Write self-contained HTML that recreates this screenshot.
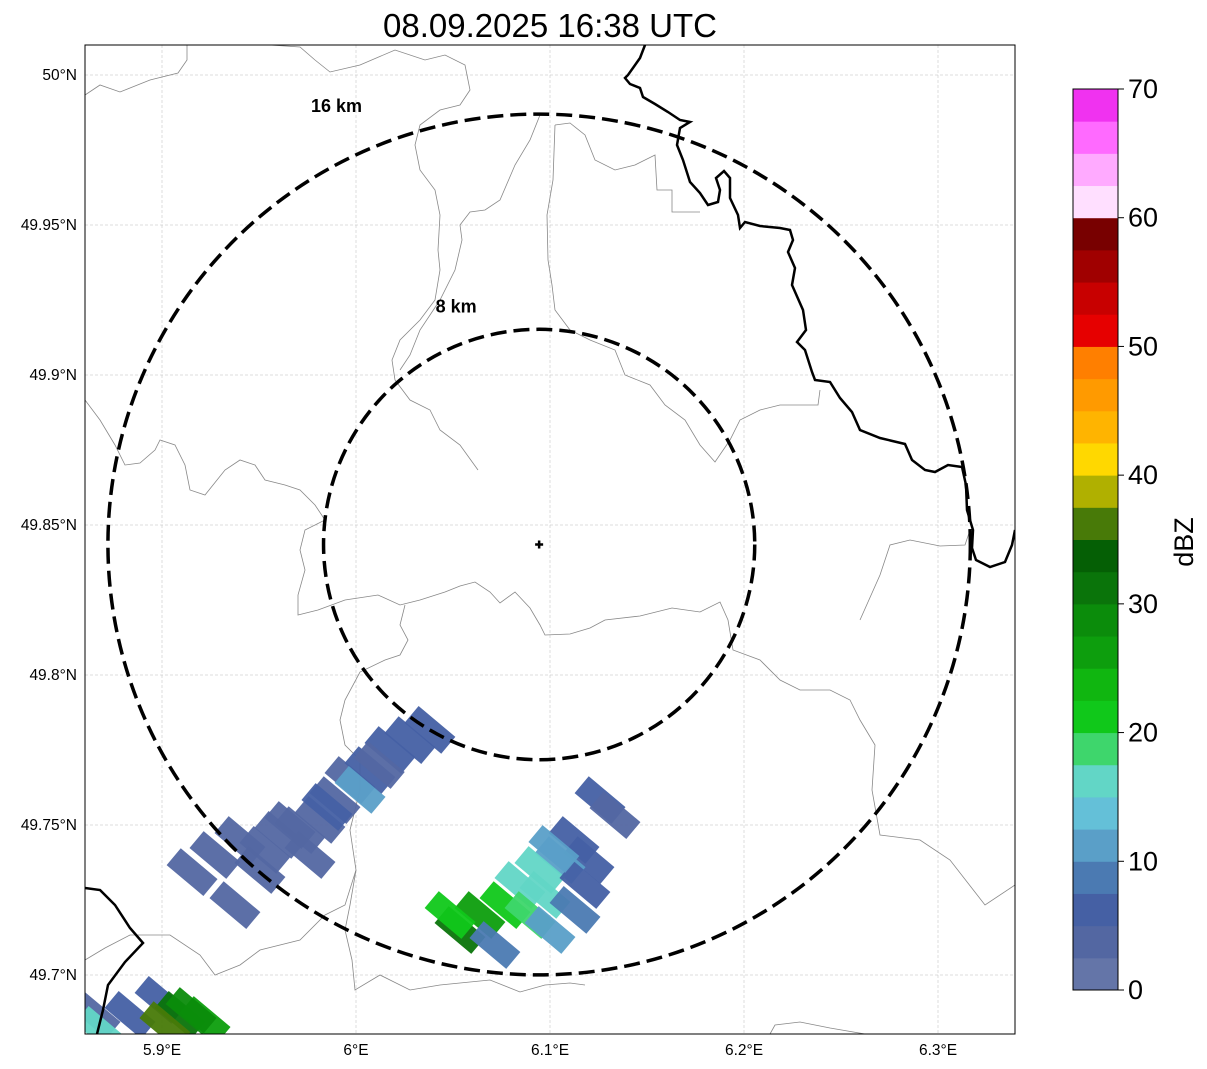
<!DOCTYPE html>
<html><head><meta charset="utf-8"><style>
html,body{margin:0;padding:0;background:#fff;width:1207px;height:1069px;overflow:hidden;font-family:"Liberation Sans","DejaVu Sans",sans-serif}
</style></head><body>
<svg id="root" width="1207" height="1069" viewBox="0 0 1207 1069" xmlns="http://www.w3.org/2000/svg" font-family="Liberation Sans, DejaVu Sans, sans-serif">
<defs><clipPath id="mapclip"><rect x="85" y="45" width="930" height="989"/></clipPath></defs>
<text x="550" y="37" font-size="33" text-anchor="middle">08.09.2025 16:38 UTC</text>
<g id="grid"></g>
<g id="borders" clip-path="url(#mapclip)" fill="none" stroke="#888" stroke-width="0.8">
<path d="M85,95 L100,85 L120,92 L150,80 L178,73 L187,60 L187,45"/>
<path d="M270,45 L300,47 L315,60 L330,72 L360,65 L395,50 L425,60 L445,55 L465,65 L470,90 L460,105 L440,110 L420,125 L415,145 L420,170 L435,190 L440,215 L438,250 L440,270 L435,300 L420,320 L400,340 L392,360 L395,380 L410,400 L430,410 L440,430 L460,445 L478,470"/>
<path d="M540,115 L530,140 L515,165 L500,200 L485,210 L470,212 L460,225 L462,240 L455,270 L440,300 L420,330 L410,355 L400,370"/>
<path d="M555,125 L553,180 L547,215 L548,260 L552,285 L555,310 L570,330"/>
<path d="M555,125 L570,123 L585,135 L595,160 L615,170 L635,165 L655,155 L657,190 L672,190 L672,212 L700,212"/>
<path d="M570,330 L590,340 L615,350 L625,375 L650,385 L665,405 L685,420 L700,445 L715,462 L730,440 L740,420 L760,410 L780,405 L818,405 L820,390"/>
<path d="M85,400 L100,420 L115,445 L125,465 L140,463 L155,450 L160,440 L175,445 L185,465 L190,490 L205,495 L225,470 L240,460 L255,465 L265,480 L285,485 L300,490 L315,505 L325,520 L305,530 L300,550 L305,570 L298,595 L298,615 L318,610 L345,600 L378,595 L400,605 L420,600 L445,592 L460,586 L475,582 L490,592 L500,603 L515,592 L530,608 L540,625 L545,635 L570,634 L590,628 L605,620 L640,616 L672,608 L700,612 L720,602 L728,620 L733,650 L760,660 L780,680 L800,690 L830,690 L850,700 L860,720 L875,745 L872,790 L880,835 L920,840 L950,860 L985,905 L1015,885"/>
<path d="M405,605 L400,625 L408,640 L400,655 L385,660 L360,672 L345,700 L340,720 L345,745 L360,760 L360,790 L350,830 L356,870 L345,905 L325,915 L300,940 L260,950 L240,965 L215,975 L200,955 L170,935 L130,935 L105,948 L85,960"/>
<path d="M356,870 L350,905 L345,930 L352,960 L355,990 L380,975 L410,990 L440,985 L490,980 L520,992 L545,985 L570,983 L585,985"/>
<path d="M860,620 L880,575 L890,545 L910,540 L940,546 L965,545 L970,530"/>
<path d="M770,1034 L775,1025 L800,1022 L830,1028 L865,1034"/>
</g>
<g id="echoes" clip-path="url(#mapclip)"></g>
<g clip-path="url(#mapclip)" fill="none" stroke="#000" stroke-width="2.5">
<path d="M645,45 L640,58 L628,75 L625,78 L630,84 L640,88 L643,97 L655,104 L668,112 L680,120 L690,122 L680,128 L677,145 L683,160 L690,182 L700,193 L708,205 L718,202 L720,190 L716,178 L724,171 L730,178 L730,198 L738,215 L740,228 L745,222 L760,226 L780,228 L790,230 L793,240 L788,252 L795,268 L792,285 L803,310 L806,330 L797,342 L805,350 L812,372 L815,380 L830,382 L840,398 L852,412 L860,430 L880,438 L905,444 L912,460 L925,470 L935,472 L948,465 L962,467 L966,485 L967,510 L973,530 L972,548 L976,560 L990,567 L1005,562 L1012,545 L1015,530"/>
<path d="M85,888 L100,890 L115,905 L130,928 L143,943 L125,962 L108,985 L103,1010 L97,1034"/>
</g>
<g id="rings"></g>
<rect x="85" y="45" width="930" height="989" fill="none" stroke="#000" stroke-width="1"/>
<g id="ticks" font-size="15.5"></g>
<g id="cbar"></g>
<text x="0" y="0" font-size="27" text-anchor="middle" transform="translate(1193,542) rotate(-90)">dBZ</text>
</svg>
<script>
const NS='http://www.w3.org/2000/svg';
const lonTicks=[5.9,6.0,6.1,6.2,6.3];
const lonLabels=['5.9°E','6°E','6.1°E','6.2°E','6.3°E'];
const latTicks=[50.0,49.95,49.9,49.85,49.8,49.75,49.7];
const latLabels=['50°N','49.95°N','49.9°N','49.85°N','49.8°N','49.75°N','49.7°N'];
const ringKm=[8,16];
const ringLabels=['8 km','16 km'];
const radarLon=[6.0944];
const radarLat=[49.8435];
const echoLon=[5.9155,5.9273,5.9402,5.9531,5.9608,5.9711,5.9814,5.9892,5.9969,6.0072,6.0175,6.0278,6.0381,6.0021,5.9376,5.9763,5.9505,5.9660,5.9850,6.0120,
6.1258,6.1335,6.1124,6.1201,6.1052,6.0948,6.0845,6.0974,6.1129,6.0768,6.0639,6.0536,6.0485,6.0897,6.1000,6.0716,6.1180,6.1020,
5.8655,5.8835,5.8990,5.9093,5.9222,5.8680,5.9015,5.9150];
const echoLat=[49.7343,49.7400,49.7450,49.7417,49.7467,49.7483,49.7517,49.7583,49.7650,49.7683,49.7750,49.7783,49.7817,49.7617,49.7233,49.7400,49.7350,49.7500,49.7560,49.7700,
49.7583,49.7533,49.7450,49.7383,49.7383,49.7350,49.7300,49.7267,49.7217,49.7233,49.7200,49.7150,49.7200,49.7200,49.7150,49.7100,49.7300,49.7420,
49.6867,49.6867,49.6917,49.6867,49.6850,49.6817,49.6833,49.6880];
const echoDbz=[3,3,3,3,3,3,4,3,3,6,6,6,6,12,3,3,3,4,6,3,
6,4,6,6,12,15,17,15,8,22,25,32,22,19,10,8,6,12,
3,6,6,32,25,15,37,28];
const cbLevels=[0,2.5,5,7.5,10,12.5,15,17.5,20,22.5,25,27.5,30,32.5,35,37.5,40,42.5,45,47.5,50,52.5,55,57.5,60,62.5,65,67.5];
const cbColors=['#6475a8','#5367a2','#4560a4','#4b7ab2','#5a9fc8','#64c0d8','#62d6c6','#3ed66c','#10c81a','#10b610','#0d9e0d','#0b8c0b','#0a740a','#055f05','#487a08','#b0b000','#ffd800','#ffb400','#ff9a00','#ff7f00','#e60000','#c80000','#a00000','#780000','#ffdfff','#ffaaff','#ff6aff','#f032f0'];
const cbTicks=[0,10,20,30,40,50,60,70];

const X=lon=>162+(lon-5.9)*1940;
const Y=lat=>75+(50-lat)*3000;
const CB=v=>990-v*(901/70);
function color(d){let c=cbColors[0];for(let i=0;i<cbLevels.length;i++)if(d>=cbLevels[i])c=cbColors[i];return c;}
function mk(t,a,p){const e=document.createElementNS(NS,t);for(const k in a)e.setAttribute(k,a[k]);p.appendChild(e);return e;}

const grid=document.getElementById('grid'),ticks=document.getElementById('ticks');
lonTicks.forEach((v,i)=>{
  const l=mk('line',{x1:X(v),x2:X(v),y1:45,y2:1034,stroke:'#bbb','stroke-width':0.5,'stroke-dasharray':'3,2'},grid);
  
  
  const t=mk('text',{x:X(v),y:1055,'text-anchor':'middle'},ticks);t.textContent=lonLabels[i];
  
  
});
latTicks.forEach((v,i)=>{
  const l=mk('line',{x1:85,x2:1015,y1:Y(v),y2:Y(v),stroke:'#bbb','stroke-width':0.5,'stroke-dasharray':'3,2'},grid);
  
  
  const t=mk('text',{x:77,y:Y(v)+5,'text-anchor':'end'},ticks);t.textContent=latLabels[i];
  
  
});
const eg=document.getElementById('echoes');
echoLon.forEach((lo,i)=>{
  const cx=X(lo),cy=Y(echoLat[i]);
  const r=mk('rect',{x:cx-24,y:cy-11,width:48,height:22,fill:color(echoDbz[i]),'fill-opacity':0.95,transform:`rotate(40 ${cx} ${cy})`},eg);
  
  
});
const rg=document.getElementById('rings');
const cx=X(radarLon[0]),cy=Y(radarLat[0]);
ringKm.forEach((k,i)=>{
  const rx=k*26.95,ry=k*26.9;
  const c=mk('ellipse',{cx:cx,cy:cy,rx:rx,ry:ry,fill:'none',stroke:'#000','stroke-width':3.5,'stroke-dasharray':'16,7'},rg);
  
  
  const fx=k==16?0.47:0.385, dy=k==16?-2:-17;
  const t=mk('text',{x:cx-rx*fx,y:cy-ry+dy,'font-size':18,'font-weight':'bold','text-anchor':'middle'},rg);
  t.textContent=ringLabels[i];
  
  
});
const m=mk('path',{d:`M${cx-4},${cy}H${cx+4}M${cx},${cy-4}V${cy+4}`,stroke:'#000','stroke-width':2.5},rg);


const cb=document.getElementById('cbar');
cbLevels.forEach((v,i)=>{
  const top=i<cbLevels.length-1?cbLevels[i+1]:70;
  const r=mk('rect',{x:1073,y:CB(top),width:45,height:CB(v)-CB(top)+0.5,fill:cbColors[i]},cb);
  
  
});
mk('rect',{x:1073,y:CB(70),width:45,height:CB(0)-CB(70),fill:'none',stroke:'#000','stroke-width':1},cb);
cbTicks.forEach(v=>{
  mk('line',{x1:1118,x2:1124,y1:CB(v),y2:CB(v),stroke:'#000'},cb);
  const t=mk('text',{x:1128,y:CB(v)+9,'font-size':27},cb);t.textContent=v;
  
  
});
</script>
</body></html>
